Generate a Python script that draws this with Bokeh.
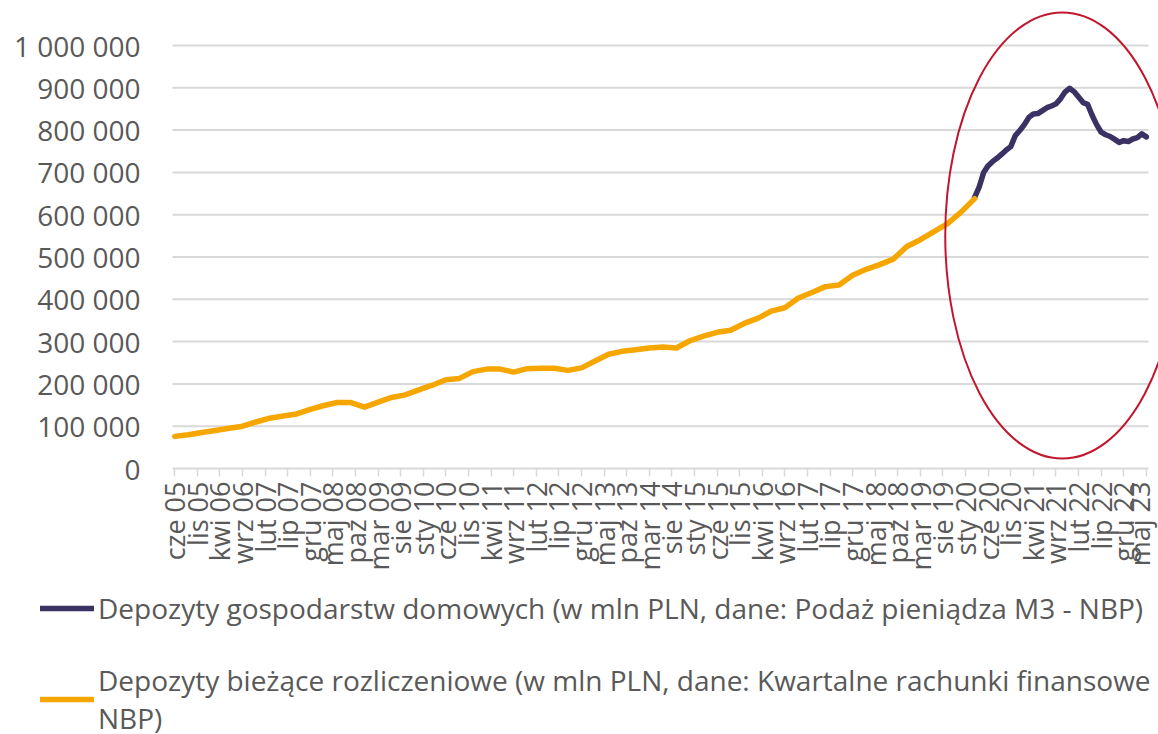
import math
from bokeh.plotting import figure
from bokeh.models import FixedTicker, Range1d, Legend, LegendItem
from bokeh.embed import file_html
from bokeh.resources import INLINE

# ---- data -----------------------------------------------------------------
# x axis: monthly positions, index 0 = June 2005 ... 215 = May 2023
X_LABELS = ["cze 05", "lis 05", "kwi 06", "wrz 06", "lut 07", "lip 07", "gru 07",
            "maj 08", "paz 08", "mar 09", "sie 09", "sty 10", "cze 10", "lis 10",
            "kwi 11", "wrz 11", "lut 12", "lip 12", "gru 12", "maj 13", "paz 13",
            "mar 14", "sie 14", "sty 15", "cze 15", "lis 15", "kwi 16", "wrz 16",
            "lut 17", "lip 17", "gru 17", "maj 18", "paz 18", "mar 19", "sie 19",
            "sty 20", "cze 20", "lis 20", "kwi 21", "wrz 21", "lut 22", "lip 22",
            "gru 22", "maj 23"]
LABEL_STEP = 5          # months between axis labels
N_MONTHS = 216

Y_TICKS = [0, 100000, 200000, 300000, 400000, 500000, 600000, 700000, 800000,
           900000, 1000000]
Y_LABELS = ["0", "100 000", "200 000", "300 000", "400 000", "500 000",
            "600 000", "700 000", "800 000", "900 000", "1 000 000"]

# quarterly current deposits (mln PLN), Q2 2005 .. Q1 2020
CURRENT_START = 0       # month index of first quarter (June 2005)
CURRENT_STEP = 3
current_deposits = [76000, 80000, 85000, 90000, 95000, 100000, 110000, 119000,
                    124000, 129000, 140000, 149000, 156000, 156000, 145000, 157000,
                    168000, 174000, 186000, 197000, 210000, 213000, 229000, 235000,
                    235000, 228000, 236000, 237000, 237000, 232000, 238000, 254000,
                    270000, 277000, 281000, 285000, 287000, 285000, 302000, 313000,
                    322000, 327000, 343000, 355000, 372000, 380000, 403000, 416000,
                    430000, 434000, 457000, 471000, 482000, 495000, 525000, 541000,
                    560000, 579000, 606000, 638000]

# monthly household deposits (mln PLN), March 2020 .. May 2023
HOUSEHOLD_START = 177   # month index of March 2020
household_deposits = [641000, 665000, 700000, 716000, 726000, 734000, 743000, 753000,
                      761000, 787000, 799000, 813000, 830000, 838000, 839000, 846000,
                      853000, 857000, 862000, 874000, 890000, 899000, 891000, 878000,
                      865000, 861000, 835000, 813000, 795000, 789000, 785000, 778000,
                      771000, 775000, 773000, 779000, 782000, 791000, 784000]

LEGEND_HOUSEHOLD = "Depozyty gospodarstw domowych (w mln PLN, dane: Podaż pieniądza M3 - NBP)"
LEGEND_CURRENT = "Depozyty bieżące rozliczeniowe (w mln PLN, dane: Kwartalne rachunki finansowe\nNBP)"

# ---- styles ---------------------------------------------------------------
NAVY = "#3B3263"
ORANGE = "#F6A600"
RED = "#C0172F"
TEXT = "#595959"
GRID = "#D9D9D9"
FONT = "Open Sans"

x_current = [CURRENT_START + CURRENT_STEP * i for i in range(len(current_deposits))]
x_household = [HOUSEHOLD_START + i for i in range(len(household_deposits))]

# The frame fills the whole canvas; axes are pinned at x=-0.5 / y=0 so the
# legend can sit below the category labels inside the drawing area.
p = figure(width=1158, height=734, output_backend="svg", toolbar_location=None,
           x_range=Range1d(-38.56, 217.69), y_range=Range1d(-628800, 1106400),
           min_border_left=0, min_border_right=0, min_border_top=0,
           min_border_bottom=0)
p.outline_line_color = None
p.background_fill_color = "white"
p.border_fill_color = "white"
p.grid.visible = False

# y axis
p.yaxis.fixed_location = -0.5
p.yaxis.ticker = FixedTicker(ticks=Y_TICKS)
p.yaxis.major_label_overrides = {t: l for t, l in zip(Y_TICKS, Y_LABELS)}
p.yaxis.axis_line_color = None
p.yaxis.major_tick_line_color = None
p.yaxis.major_tick_in = 0
p.yaxis.major_tick_out = 0
p.yaxis.minor_tick_line_color = None
p.yaxis.major_label_standoff = 32
p.yaxis.major_label_text_font = FONT
p.yaxis.major_label_text_font_size = "28px"
p.yaxis.major_label_text_color = TEXT

# horizontal gridlines spanning the category range only
p.segment(x0=-0.5, x1=N_MONTHS - 0.5, y0=Y_TICKS[1:], y1=Y_TICKS[1:],
          line_color=GRID, line_width=2)

# x axis
x_ticks = [LABEL_STEP * i for i in range(len(X_LABELS))]
p.xaxis.fixed_location = 0
p.xaxis.ticker = FixedTicker(ticks=x_ticks)
p.xaxis.major_label_overrides = {t: l for t, l in zip(x_ticks, X_LABELS)}
p.xaxis.major_label_orientation = math.pi / 2
p.xaxis.axis_line_color = None
p.segment(x0=-0.5, x1=N_MONTHS - 0.5, y0=0, y1=0, line_color=GRID, line_width=2)
p.xaxis.major_tick_line_color = GRID
p.xaxis.major_tick_line_width = 1.5
p.xaxis.major_tick_in = 0
p.xaxis.major_tick_out = 8
p.xaxis.minor_tick_line_color = None
p.xaxis.major_label_standoff = 5
p.xaxis.major_label_text_font = FONT
p.xaxis.major_label_text_font_size = "27px"
p.xaxis.major_label_text_color = TEXT

r_house = p.line(x_household, household_deposits, line_color=NAVY, line_width=5.5,
                 line_join="round", line_cap="round")
r_curr = p.line(x_current, current_deposits, line_color=ORANGE, line_width=5.5,
                line_join="round", line_cap="round")

# highlight ellipse around the 2020-2023 segment
p.ellipse(x=[196.4], y=[550800], width=[51.8], height=[1054400],
          fill_alpha=0, line_color=RED, line_width=2)

legend = Legend(items=[LegendItem(label=LEGEND_HOUSEHOLD, renderers=[r_house]),
                       LegendItem(label=LEGEND_CURRENT, renderers=[r_curr])],
                location=(40, -3), margin=0, padding=0, spacing=34,
                glyph_width=54, glyph_height=28, label_standoff=4,
                label_text_font=FONT, label_text_font_size="28px",
                label_text_color=TEXT, label_text_line_height=1.0,
                border_line_color=None, background_fill_alpha=0)
p.add_layout(legend)

open("out.html", "w").write(file_html(p, INLINE))
